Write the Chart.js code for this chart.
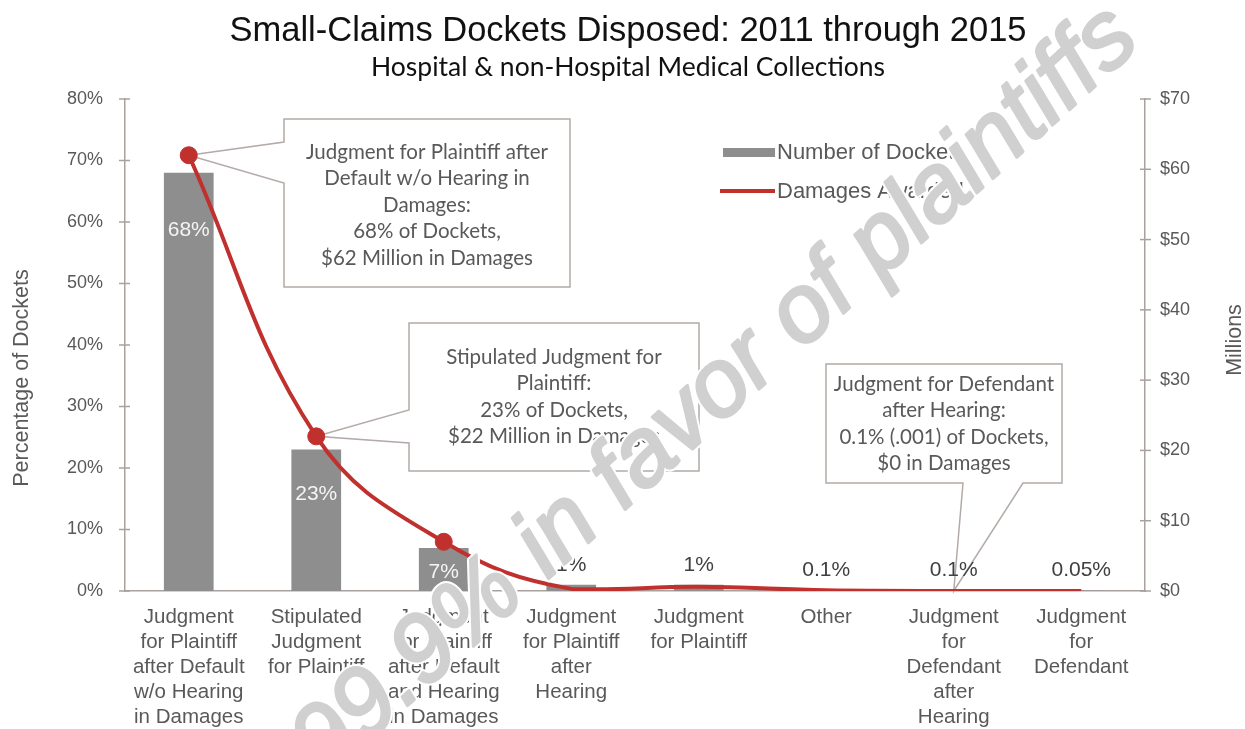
<!DOCTYPE html>
<html>
<head>
<meta charset="utf-8">
<script src="https://cdn.jsdelivr.net/npm/chart.js@4.4.1/dist/chart.umd.min.js"></script>
<style>
  html, body { margin: 0; padding: 0; background: #fff; }
  #wrap { width: 1245px; height: 729px; position: relative; }
</style>
</head>
<body>
<div id="wrap"><canvas id="chartDockets"></canvas></div>
<script>
// Categories (multi-line x labels)
const categories = [
  ['Judgment', 'for Plaintiff', 'after Default', 'w/o Hearing', 'in Damages'],
  ['Stipulated', 'Judgment', 'for Plaintiff'],
  ['Judgment', 'for Plaintiff', 'after Default', 'and Hearing', 'in Damages'],
  ['Judgment', 'for Plaintiff', 'after', 'Hearing'],
  ['Judgment', 'for Plaintiff'],
  ['Other'],
  ['Judgment', 'for', 'Defendant', 'after', 'Hearing'],
  ['Judgment', 'for', 'Defendant']
];

// Share of dockets (%) and damages awarded ($ millions)
const docketShare = [68, 23, 7, 1, 1, 0.1, 0.1, 0.05];
const docketLabels = ['68%', '23%', '7%', '1%', '1%', '0.1%', '0.1%', '0.05%'];
const damagesAwarded = [62, 22, 7, 0.3, 0.6, 0.1, 0, 0];

// Tick labels for both value axes
const percentTicks = ['0%', '10%', '20%', '30%', '40%', '50%', '60%', '70%', '80%'];
const millionTicks = ['$0', '$10', '$20', '$30', '$40', '$50', '$60', '$70'];

const RED = '#c0312e';
const GRAY_BAR = '#8e8e8e';
const AXIS = '#a9a19e';
const TEXT = '#595959';
const ARIAL = '"Liberation Sans", Arial, sans-serif';
const CALIBRI = 'Lato, "Open Sans", sans-serif';

// Callout boxes pointing at the line points
const callouts = [
  { index: 0, box: [284, 119, 286, 168], side: 'left', base: [142, 183], first: 152,
    lines: ['Judgment for Plaintiff after', 'Default w/o Hearing in', 'Damages:', '68% of Dockets,', '$62 Million in Damages'] },
  { index: 1, box: [409, 323, 290, 148], side: 'left', base: [410, 443], first: 357,
    lines: ['Stipulated Judgment for', 'Plaintiff:', '23% of Dockets,', '$22 Million in Damages'] },
  { index: 6, box: [826, 364, 236, 119], side: 'bottom', base: [963, 1023], first: 384,
    lines: ['Judgment for Defendant', 'after Hearing:', '0.1% (.001) of Dockets,', '$0 in Damages'] }
];

const calloutPlugin = {
  id: 'callouts',
  beforeDatasetsDraw(chart) {
    const ctx = chart.ctx;
    const meta = chart.getDatasetMeta(0);
    callouts.forEach(c => {
      const pt = meta.data[c.index];
      const ax = pt.x, ay = pt.y;
      const [x, y, w, h] = c.box;
      ctx.save();
      ctx.beginPath();
      if (c.side === 'left') {
        ctx.moveTo(x, y);
        ctx.lineTo(x + w, y);
        ctx.lineTo(x + w, y + h);
        ctx.lineTo(x, y + h);
        ctx.lineTo(x, c.base[1]);
        ctx.lineTo(ax, ay);
        ctx.lineTo(x, c.base[0]);
      } else {
        ctx.moveTo(x, y);
        ctx.lineTo(x + w, y);
        ctx.lineTo(x + w, y + h);
        ctx.lineTo(c.base[1], y + h);
        ctx.lineTo(ax, ay);
        ctx.lineTo(c.base[0], y + h);
        ctx.lineTo(x, y + h);
      }
      ctx.closePath();
      ctx.fillStyle = '#ffffff';
      ctx.fill();
      ctx.strokeStyle = '#b3aba7';
      ctx.lineWidth = 1.5;
      ctx.stroke();

      ctx.fillStyle = TEXT;
      ctx.font = '20.5px ' + CALIBRI;
      ctx.textAlign = 'center';
      ctx.textBaseline = 'middle';
      c.lines.forEach((line, i) => {
        ctx.fillText(line, x + w / 2, c.first + i * 26.6);
      });
      ctx.restore();
    });
  }
};

// Value labels on the bars, drawn before the line goes on top
const barLabelPlugin = {
  id: 'barLabels',
  afterDatasetDraw(chart, args) {
    if (args.index !== 1) return;
    const ctx = chart.ctx;
    const insideOffset = [57, 45, 24];
    ctx.save();
    ctx.font = '21px ' + ARIAL;
    ctx.textAlign = 'center';
    ctx.textBaseline = 'middle';
    args.meta.data.forEach((bar, i) => {
      if (i < insideOffset.length) {
        ctx.fillStyle = '#f4f4f4';
        ctx.fillText(docketLabels[i], bar.x, bar.y + insideOffset[i]);
      } else {
        ctx.fillStyle = '#404040';
        ctx.fillText(docketLabels[i], bar.x, bar.y - 20);
      }
    });
    ctx.restore();
  }
};

// Titles, axis titles, tick marks, legend and the diagonal stamp
const decorPlugin = {
  id: 'decor',
  afterDatasetsDraw(chart) {
    const ctx = chart.ctx;
    const { left, right } = chart.chartArea;
    ctx.save();
    ctx.strokeStyle = AXIS;
    ctx.lineWidth = 1.5;
    chart.scales.y.ticks.forEach(t => {
      const py = chart.scales.y.getPixelForValue(t.value);
      ctx.beginPath(); ctx.moveTo(left - 6, py); ctx.lineTo(left + 5, py); ctx.stroke();
    });
    chart.scales.y1.ticks.forEach(t => {
      const py = chart.scales.y1.getPixelForValue(t.value);
      ctx.beginPath(); ctx.moveTo(right - 5, py); ctx.lineTo(right + 6, py); ctx.stroke();
    });

    // legend
    ctx.fillStyle = GRAY_BAR;
    ctx.fillRect(723, 148, 52, 9);
    ctx.strokeStyle = RED;
    ctx.lineWidth = 4;
    ctx.beginPath(); ctx.moveTo(720, 191); ctx.lineTo(775, 191); ctx.stroke();
    ctx.fillStyle = TEXT;
    ctx.font = '22px ' + ARIAL;
    ctx.textAlign = 'left';
    ctx.textBaseline = 'middle';
    ctx.fillText('Number of Dockets', 777, 153);
    ctx.fillText('Damages Awarded', 777, 192);
    ctx.restore();
  },
  afterDraw(chart) {
    const ctx = chart.ctx;
    ctx.save();
    ctx.textAlign = 'center';
    ctx.textBaseline = 'middle';
    ctx.fillStyle = '#111111';
    ctx.font = '34.5px ' + ARIAL;
    ctx.fillText('Small-Claims Dockets Disposed: 2011 through 2015', 628, 31);
    ctx.font = '26.5px ' + CALIBRI;
    ctx.fillText('Hospital & non-Hospital Medical Collections', 628, 67);

    ctx.fillStyle = TEXT;
    ctx.font = '21.5px ' + ARIAL;
    ctx.save();
    ctx.translate(22, 378);
    ctx.rotate(-Math.PI / 2);
    ctx.fillText('Percentage of Dockets', 0, 0);
    ctx.restore();
    ctx.save();
    ctx.translate(1235, 340);
    ctx.rotate(-Math.PI / 2);
    ctx.fillText('Millions', 0, 0);
    ctx.restore();

    // stamp across the whole chart
    ctx.save();
    ctx.translate(716, 392);
    ctx.rotate(-42 * Math.PI / 180);
    ctx.font = 'italic 96px ' + ARIAL;
    ctx.lineJoin = 'round';
    ctx.strokeStyle = '#ffffff';
    ctx.lineWidth = 7;
    ctx.strokeText('99.9% in favor of plaintiffs', 0, 0);
    ctx.strokeStyle = '#d0d0d0';
    ctx.lineWidth = 3;
    ctx.strokeText('99.9% in favor of plaintiffs', 0, 0);
    ctx.fillStyle = '#d0d0d0';
    ctx.fillText('99.9% in favor of plaintiffs', 0, 0);
    ctx.restore();
    ctx.restore();
  }
};

const ctx = document.getElementById('chartDockets').getContext('2d');

const chartDockets = new Chart(ctx, {
  data: {
    labels: categories,
    datasets: [
      {
        type: 'line',
        label: 'Damages Awarded',
        data: damagesAwarded,
        yAxisID: 'y1',
        borderColor: RED,
        backgroundColor: RED,
        borderWidth: 4,
        tension: 0.4,
        pointRadius: [8.5, 8.5, 8.5, 0, 0, 0, 0, 0],
        pointBorderWidth: 1,
        pointBackgroundColor: RED,
        order: 0
      },
      {
        type: 'bar',
        label: 'Number of Dockets',
        data: docketShare,
        yAxisID: 'y',
        backgroundColor: GRAY_BAR,
        barPercentage: 0.39,
        categoryPercentage: 1.0,
        order: 1
      }
    ]
  },
  options: {
    responsive: true,
    maintainAspectRatio: false,
    animation: false,
    layout: { padding: { top: 99, left: 0, right: 0, bottom: 0 } },
    plugins: {
      legend: { display: false },
      title: { display: false },
      tooltip: { enabled: false }
    },
    scales: {
      x: {
        grid: { display: false, drawTicks: false },
        border: { display: true, color: AXIS, width: 1.5 },
        ticks: {
          color: TEXT,
          font: { family: ARIAL, size: 20.5, lineHeight: 1.22 },
          padding: 14,
          maxRotation: 0,
          autoSkip: false
        },
        afterFit(scale) { scale.height = 138; }
      },
      y: {
        position: 'left',
        min: 0,
        max: 80,
        grid: { display: false, drawTicks: false },
        border: { display: true, color: AXIS, width: 1.5 },
        ticks: {
          stepSize: 10,
          color: TEXT,
          font: { family: ARIAL, size: 18 },
          padding: 22,
          callback: (v, i) => percentTicks[i]
        },
        afterFit(scale) { scale.width = 125; }
      },
      y1: {
        position: 'right',
        min: 0,
        max: 70,
        grid: { display: false, drawTicks: false },
        border: { display: true, color: AXIS, width: 1.5 },
        ticks: {
          stepSize: 10,
          color: TEXT,
          font: { family: ARIAL, size: 18 },
          padding: 15,
          callback: (v, i) => millionTicks[i]
        },
        afterFit(scale) { scale.width = 100; }
      }
    }
  },
  plugins: [calloutPlugin, barLabelPlugin, decorPlugin]
});
</script>
</body>
</html>
